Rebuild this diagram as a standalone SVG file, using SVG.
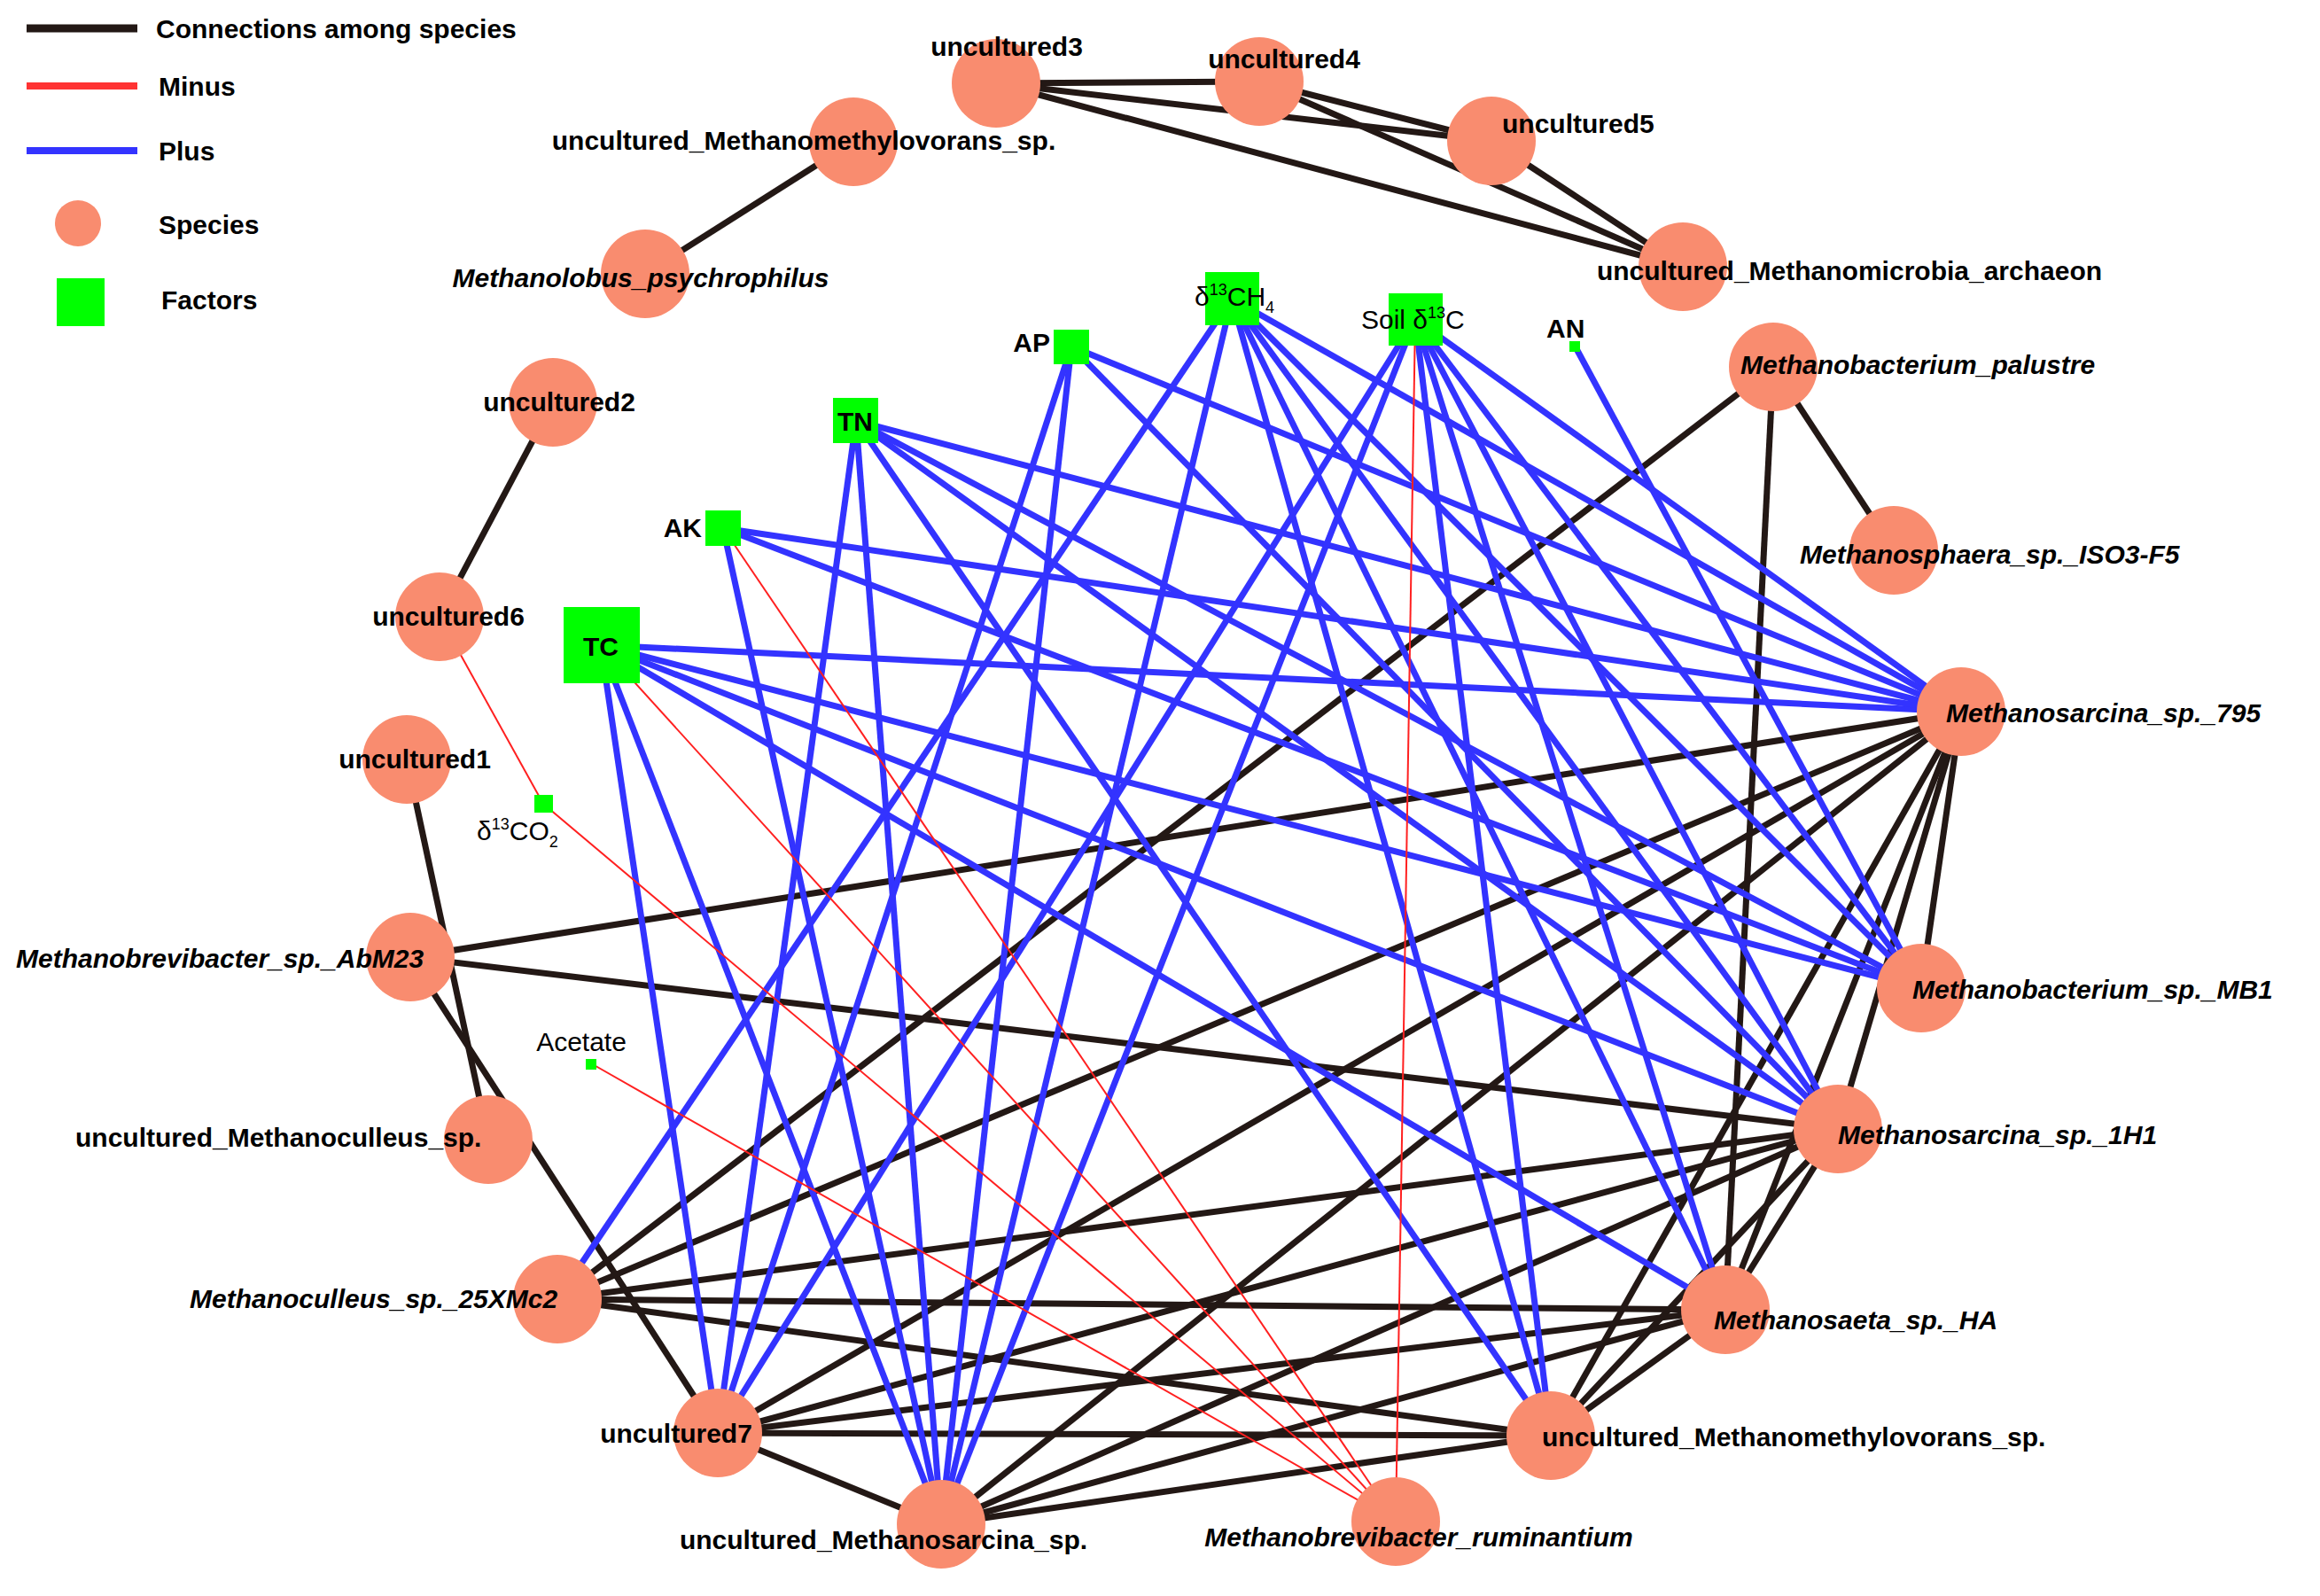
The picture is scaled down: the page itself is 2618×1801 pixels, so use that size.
<svg xmlns="http://www.w3.org/2000/svg" width="2618" height="1801" viewBox="0 0 2618 1801">
<style>
text{font-family:"Liberation Sans",Arial,sans-serif;font-size:30px;font-weight:bold;fill:#000}
.it{font-style:italic}
.n{font-weight:normal}
.sp{fill:#f98c6f}
.f{fill:#00ff00}
.k line{stroke:#231815;stroke-width:7}
.b line{stroke:#3333ff;stroke-width:7}
.r line{stroke:#ff2020;stroke-width:2}
.mid{text-anchor:middle}
.end{text-anchor:end}
</style>
<g id="legend">
<line x1="30" y1="32" x2="155" y2="32" stroke="#231815" stroke-width="9"/>
<text x="176" y="43">Connections among species</text>
<line x1="30" y1="97" x2="155" y2="97" stroke="#ff3333" stroke-width="8"/>
<text x="179" y="108">Minus</text>
<line x1="30" y1="170" x2="155" y2="170" stroke="#3333ff" stroke-width="8"/>
<text x="179" y="181">Plus</text>
<circle class="sp" cx="88" cy="252" r="26"/>
<text x="179" y="264">Species</text>
<rect class="f" x="64" y="314" width="54" height="54"/>
<text x="182" y="349">Factors</text>
</g>
<g id="connectors">
<g class="k">
<line x1="1124" y1="94" x2="1421" y2="92"/>
<line x1="1124" y1="94" x2="1683" y2="159"/>
<line x1="1124" y1="94" x2="1899" y2="301"/>
<line x1="1421" y1="92" x2="1683" y2="159"/>
<line x1="1421" y1="92" x2="1899" y2="301"/>
<line x1="1683" y1="159" x2="1899" y2="301"/>
<line x1="963" y1="160" x2="728" y2="309"/>
<line x1="624" y1="454" x2="496" y2="696"/>
<line x1="459" y1="857" x2="551" y2="1286"/>
<line x1="463" y1="1080" x2="810" y2="1617"/>
<line x1="463" y1="1080" x2="2213" y2="803"/>
<line x1="463" y1="1080" x2="2074" y2="1274"/>
<line x1="2001" y1="414" x2="2137" y2="621"/>
<line x1="2001" y1="414" x2="1947" y2="1478"/>
<line x1="2001" y1="414" x2="629" y2="1466"/>
<line x1="2213" y1="803" x2="2168" y2="1115"/>
<line x1="2213" y1="803" x2="2074" y2="1274"/>
<line x1="2213" y1="803" x2="1947" y2="1478"/>
<line x1="2213" y1="803" x2="1750" y2="1620"/>
<line x1="2213" y1="803" x2="1062" y2="1720"/>
<line x1="2213" y1="803" x2="810" y2="1617"/>
<line x1="2213" y1="803" x2="629" y2="1466"/>
<line x1="2074" y1="1274" x2="629" y2="1466"/>
<line x1="2074" y1="1274" x2="810" y2="1617"/>
<line x1="2074" y1="1274" x2="1062" y2="1720"/>
<line x1="2074" y1="1274" x2="1750" y2="1620"/>
<line x1="2074" y1="1274" x2="1947" y2="1478"/>
<line x1="1947" y1="1478" x2="629" y2="1466"/>
<line x1="1947" y1="1478" x2="810" y2="1617"/>
<line x1="1947" y1="1478" x2="1062" y2="1720"/>
<line x1="1947" y1="1478" x2="1750" y2="1620"/>
<line x1="1750" y1="1620" x2="629" y2="1466"/>
<line x1="1750" y1="1620" x2="810" y2="1617"/>
<line x1="1750" y1="1620" x2="1062" y2="1720"/>
<line x1="810" y1="1617" x2="1062" y2="1720"/>
</g>
<g class="b">
<line x1="678" y1="728" x2="2213" y2="803"/>
<line x1="678" y1="728" x2="2168" y2="1115"/>
<line x1="678" y1="728" x2="2074" y2="1274"/>
<line x1="678" y1="728" x2="1947" y2="1478"/>
<line x1="678" y1="728" x2="810" y2="1617"/>
<line x1="678" y1="728" x2="1062" y2="1720"/>
<line x1="816" y1="596" x2="2213" y2="803"/>
<line x1="816" y1="596" x2="2168" y2="1115"/>
<line x1="816" y1="596" x2="1062" y2="1720"/>
<line x1="966" y1="475" x2="2213" y2="803"/>
<line x1="966" y1="475" x2="2168" y2="1115"/>
<line x1="966" y1="475" x2="2074" y2="1274"/>
<line x1="966" y1="475" x2="1750" y2="1620"/>
<line x1="966" y1="475" x2="810" y2="1617"/>
<line x1="966" y1="475" x2="1062" y2="1720"/>
<line x1="1209" y1="391" x2="810" y2="1617"/>
<line x1="1209" y1="391" x2="1062" y2="1720"/>
<line x1="1209" y1="391" x2="2213" y2="803"/>
<line x1="1209" y1="391" x2="2074" y2="1274"/>
<line x1="1390" y1="337" x2="629" y2="1466"/>
<line x1="1390" y1="337" x2="1062" y2="1720"/>
<line x1="1390" y1="337" x2="1750" y2="1620"/>
<line x1="1390" y1="337" x2="1947" y2="1478"/>
<line x1="1390" y1="337" x2="2074" y2="1274"/>
<line x1="1390" y1="337" x2="2168" y2="1115"/>
<line x1="1390" y1="337" x2="2213" y2="803"/>
<line x1="1597" y1="360" x2="810" y2="1617"/>
<line x1="1597" y1="360" x2="1062" y2="1720"/>
<line x1="1597" y1="360" x2="1750" y2="1620"/>
<line x1="1597" y1="360" x2="1947" y2="1478"/>
<line x1="1597" y1="360" x2="2074" y2="1274"/>
<line x1="1597" y1="360" x2="2168" y2="1115"/>
<line x1="1597" y1="360" x2="2213" y2="803"/>
<line x1="1777" y1="390" x2="2168" y2="1115"/>
</g>
<g class="r">
<line x1="496" y1="696" x2="613" y2="907"/>
<line x1="613" y1="907" x2="1575" y2="1717"/>
<line x1="678" y1="728" x2="1575" y2="1717"/>
<line x1="816" y1="596" x2="1575" y2="1717"/>
<line x1="667" y1="1200" x2="1575" y2="1717"/>
<line x1="1597" y1="360" x2="1575" y2="1717"/>
</g>
</g>
<g id="u3"><circle class="sp" cx="1124" cy="94" r="50"/><text class="mid" x="1136" y="63">uncultured3</text></g>
<g id="u4"><circle class="sp" cx="1421" cy="92" r="50"/><text class="mid" x="1449" y="77">uncultured4</text></g>
<g id="u5"><circle class="sp" cx="1683" cy="159" r="50"/><text x="1695" y="150">uncultured5</text></g>
<g id="uMA"><circle class="sp" cx="1899" cy="301" r="50"/><text class="mid" x="2087" y="316">uncultured_Methanomicrobia_archaeon</text></g>
<g id="uMMt"><circle class="sp" cx="963" cy="160" r="50"/><text class="mid" x="907" y="169">uncultured_Methanomethylovorans_sp.</text></g>
<g id="Mpsy"><circle class="sp" cx="728" cy="309" r="50"/><text class="mid it" x="723" y="324">Methanolobus_psychrophilus</text></g>
<g id="u2"><circle class="sp" cx="624" cy="454" r="50"/><text class="mid" x="631" y="464">uncultured2</text></g>
<g id="u6"><circle class="sp" cx="496" cy="696" r="50"/><text class="mid" x="506" y="706">uncultured6</text></g>
<g id="u1"><circle class="sp" cx="459" cy="857" r="50"/><text class="mid" x="468" y="867">uncultured1</text></g>
<g id="AbM"><circle class="sp" cx="463" cy="1080" r="50"/><text class="it" x="18" y="1092">Methanobrevibacter_sp._AbM23</text></g>
<g id="uMcu"><circle class="sp" cx="551" cy="1286" r="50"/><text x="85" y="1294">uncultured_Methanoculleus_sp.</text></g>
<g id="M25"><circle class="sp" cx="629" cy="1466" r="50"/><text class="it" x="214" y="1476">Methanoculleus_sp._25XMc2</text></g>
<g id="u7"><circle class="sp" cx="810" cy="1617" r="50"/><text class="mid" x="763" y="1628">uncultured7</text></g>
<g id="uMsa"><circle class="sp" cx="1062" cy="1720" r="50"/><text class="mid" x="997" y="1748">uncultured_Methanosarcina_sp.</text></g>
<g id="Mrum"><circle class="sp" cx="1575" cy="1717" r="50"/><text class="mid it" x="1601" y="1745">Methanobrevibacter_ruminantium</text></g>
<g id="uMMb"><circle class="sp" cx="1750" cy="1620" r="50"/><text x="1740" y="1632">uncultured_Methanomethylovorans_sp.</text></g>
<g id="MHA"><circle class="sp" cx="1947" cy="1478" r="50"/><text class="it" x="1934" y="1500">Methanosaeta_sp._HA</text></g>
<g id="M1H1"><circle class="sp" cx="2074" cy="1274" r="50"/><text class="it" x="2074" y="1291">Methanosarcina_sp._1H1</text></g>
<g id="MMB1"><circle class="sp" cx="2168" cy="1115" r="50"/><text class="it" x="2158" y="1127">Methanobacterium_sp._MB1</text></g>
<g id="M795"><circle class="sp" cx="2213" cy="803" r="50"/><text class="it" x="2196" y="815">Methanosarcina_sp._795</text></g>
<g id="MISO"><circle class="sp" cx="2137" cy="621" r="50"/><text class="it" x="2031" y="636">Methanosphaera_sp._ISO3-F5</text></g>
<g id="Mpal"><circle class="sp" cx="2001" cy="414" r="50"/><text class="it" x="1964" y="422">Methanobacterium_palustre</text></g>
<g id="TC"><rect class="f" x="636" y="685" width="86" height="86"/><text class="mid" x="678" y="740">TC</text></g>
<g id="AK"><rect class="f" x="796" y="576" width="40" height="40"/><text class="end" x="792" y="606">AK</text></g>
<g id="TN"><rect class="f" x="940" y="449" width="51" height="51"/><text class="mid" x="965" y="486">TN</text></g>
<g id="AP"><rect class="f" x="1189" y="372" width="40" height="39"/><text class="end" x="1185" y="397">AP</text></g>
<g id="CH4"><rect class="f" x="1360" y="307" width="61" height="60"/><text class="n" x="1348" y="345">δ<tspan font-size="18" dy="-12">13</tspan><tspan dy="12">CH</tspan><tspan font-size="18" dy="8">4</tspan></text></g>
<g id="SoilC"><rect class="f" x="1567" y="331" width="61" height="59"/><text class="n" x="1536" y="371">Soil δ<tspan font-size="18" dy="-12">13</tspan><tspan dy="12">C</tspan></text></g>
<g id="AN"><rect class="f" x="1771" y="385" width="12" height="12"/><text x="1745" y="381">AN</text></g>
<g id="CO2"><rect class="f" x="603" y="897" width="21" height="20"/><text class="n" x="538" y="948">δ<tspan font-size="18" dy="-12">13</tspan><tspan dy="12">CO</tspan><tspan font-size="18" dy="8">2</tspan></text></g>
<g id="Acetate"><rect class="f" x="661" y="1195" width="12" height="12"/><text class="mid n" x="656" y="1186">Acetate</text></g>
</svg>
